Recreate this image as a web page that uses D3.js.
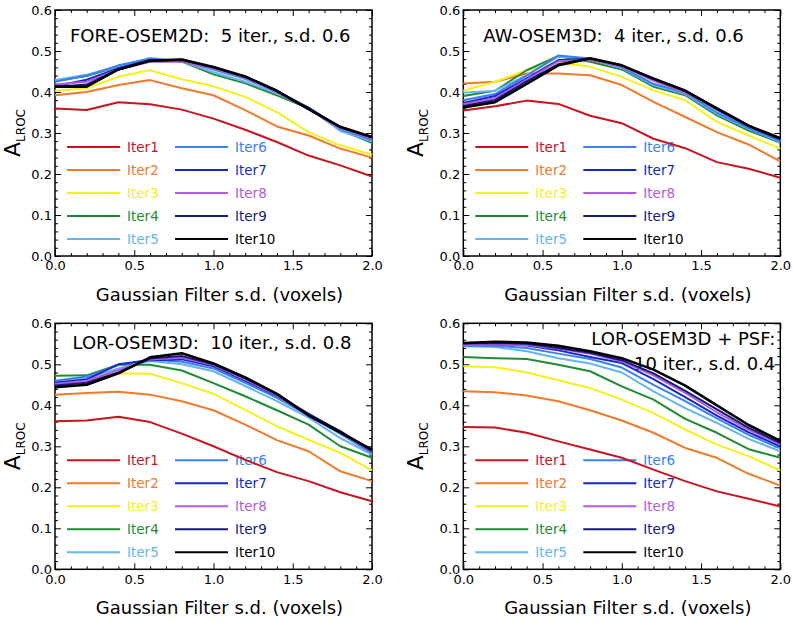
<!DOCTYPE html>
<html><head><meta charset="utf-8">
<script src="https://cdn.jsdelivr.net/npm/d3@7"></script>
<style>
html,body{margin:0;padding:0;background:#fff;}
svg{display:block;}
text{font-family:"DejaVu Sans",sans-serif;}
</style></head>
<body>
<svg id="chart" width="793" height="622"></svg>
<script>
// ---------- data ----------
const filterSD = [0.0,0.2,0.4,0.6,0.8,1.0,1.2,1.4,1.6,1.8,2.0];
const seriesNames = ["Iter1","Iter2","Iter3","Iter4","Iter5","Iter6","Iter7","Iter8","Iter9","Iter10"];
const seriesColors = ["#c8141e","#f07a2a","#f4f020","#1e8c32","#64b4f0","#3a80f0","#1428c8","#b45adc","#141a80","#000000"];
const xTickValues = [0.0,0.5,1.0,1.5,2.0];
const yTickValues = [0.0,0.1,0.2,0.3,0.4,0.5,0.6];
const xLabel = "Gaussian Filter s.d. (voxels)";

const foreOsem2d = [
  [0.360,0.356,0.375,0.370,0.357,0.335,0.308,0.278,0.245,0.221,0.194],
  [0.392,0.400,0.417,0.429,0.409,0.392,0.356,0.316,0.294,0.262,0.240],
  [0.403,0.409,0.437,0.453,0.431,0.414,0.388,0.351,0.302,0.270,0.247],
  [0.427,0.439,0.462,0.480,0.474,0.443,0.421,0.392,0.360,0.307,0.276],
  [0.429,0.442,0.463,0.483,0.475,0.448,0.425,0.396,0.362,0.305,0.280],
  [0.425,0.440,0.465,0.481,0.476,0.455,0.432,0.400,0.360,0.310,0.283],
  [0.414,0.430,0.458,0.478,0.478,0.459,0.437,0.402,0.362,0.313,0.287],
  [0.418,0.425,0.455,0.474,0.474,0.458,0.435,0.400,0.358,0.312,0.286],
  [0.412,0.418,0.455,0.477,0.479,0.460,0.437,0.403,0.359,0.314,0.289],
  [0.413,0.413,0.455,0.476,0.479,0.461,0.438,0.403,0.358,0.315,0.290]
];
const awOsem3d = [
  [0.355,0.365,0.379,0.371,0.342,0.324,0.286,0.263,0.229,0.213,0.191],
  [0.421,0.425,0.445,0.445,0.441,0.417,0.376,0.339,0.302,0.272,0.231],
  [0.403,0.425,0.453,0.471,0.462,0.437,0.404,0.380,0.327,0.294,0.262],
  [0.390,0.403,0.453,0.488,0.474,0.455,0.413,0.392,0.343,0.306,0.276],
  [0.398,0.403,0.441,0.486,0.480,0.458,0.417,0.395,0.347,0.310,0.278],
  [0.380,0.395,0.440,0.489,0.482,0.460,0.420,0.398,0.350,0.312,0.280],
  [0.373,0.390,0.433,0.478,0.481,0.463,0.432,0.402,0.357,0.316,0.284],
  [0.370,0.385,0.430,0.475,0.478,0.462,0.428,0.398,0.360,0.318,0.284],
  [0.366,0.380,0.426,0.468,0.482,0.465,0.434,0.404,0.360,0.318,0.285],
  [0.362,0.375,0.420,0.465,0.482,0.465,0.432,0.403,0.360,0.318,0.287]
];
const lorOsem3d = [
  [0.361,0.363,0.372,0.359,0.331,0.300,0.267,0.237,0.215,0.188,0.166],
  [0.426,0.430,0.433,0.426,0.410,0.388,0.353,0.315,0.288,0.239,0.215],
  [0.455,0.462,0.478,0.477,0.454,0.428,0.389,0.349,0.316,0.284,0.241],
  [0.472,0.473,0.499,0.499,0.485,0.454,0.422,0.388,0.353,0.300,0.272],
  [0.458,0.466,0.490,0.508,0.500,0.483,0.447,0.410,0.370,0.320,0.280],
  [0.460,0.470,0.498,0.512,0.506,0.490,0.455,0.418,0.375,0.330,0.283],
  [0.455,0.463,0.500,0.510,0.512,0.495,0.460,0.423,0.380,0.335,0.286],
  [0.452,0.460,0.486,0.512,0.516,0.498,0.463,0.425,0.377,0.335,0.286],
  [0.448,0.455,0.480,0.514,0.520,0.500,0.466,0.428,0.378,0.337,0.288],
  [0.444,0.450,0.478,0.517,0.527,0.502,0.468,0.428,0.375,0.334,0.292]
];
const lorOsem3dPsf = [
  [0.347,0.346,0.333,0.312,0.292,0.272,0.243,0.215,0.190,0.172,0.153],
  [0.434,0.432,0.424,0.410,0.388,0.363,0.333,0.296,0.272,0.233,0.204],
  [0.495,0.493,0.480,0.461,0.442,0.414,0.381,0.341,0.304,0.276,0.241],
  [0.518,0.515,0.513,0.499,0.483,0.446,0.414,0.367,0.333,0.293,0.272],
  [0.544,0.542,0.532,0.515,0.502,0.480,0.434,0.393,0.357,0.318,0.288],
  [0.545,0.545,0.540,0.526,0.513,0.492,0.450,0.410,0.368,0.328,0.295],
  [0.550,0.549,0.546,0.534,0.518,0.503,0.464,0.420,0.375,0.334,0.300],
  [0.548,0.548,0.547,0.538,0.526,0.507,0.473,0.430,0.383,0.340,0.305],
  [0.551,0.552,0.550,0.540,0.528,0.510,0.478,0.435,0.390,0.345,0.308],
  [0.552,0.555,0.553,0.545,0.532,0.515,0.487,0.448,0.400,0.352,0.313]
];
const panelTitles = [
  ["FORE-OSEM2D:  5 iter., s.d. 0.6"],
  ["AW-OSEM3D:  4 iter., s.d. 0.6"],
  ["LOR-OSEM3D:  10 iter., s.d. 0.8"],
  ["LOR-OSEM3D + PSF:", "10 iter., s.d. 0.4"]
];
const panelData = [foreOsem2d, awOsem3d, lorOsem3d, lorOsem3dPsf];

// ---------- layout ----------
const PW = 317, PH = 246;
const layout = [
  {left:55,   top:10,    titleX:15, titleY:[31.5], anchor:"start", ylabX:-35},
  {left:463.3,top:10,    titleX:20, titleY:[31.5], anchor:"start", ylabX:-40},
  {left:55,   top:323.3, titleX:17.5, titleY:[26], anchor:"start", ylabX:-35},
  {left:463.3,top:323.3, titleX:PW-5, titleY:[21.7,46.7], anchor:"end", ylabX:-40}
];
const legendRows = [109, 86, 63, 40, 17];

const svg = d3.select("#chart");

panelData.forEach((data, pi) => {
  const L = layout[pi];
  const g = svg.append("g").attr("transform", `translate(${L.left},${L.top})`);
  const x = d3.scaleLinear().domain([0, 2]).range([0, PW]);
  const y = d3.scaleLinear().domain([0, 0.6]).range([PH, 0]);

  const xMinor = d3.range(0, 21).map(i => i/10).filter(v => Math.abs(v*2 - Math.round(v*2)) > 1e-6);
  const yMinor = d3.range(0, 31).map(i => i/50).filter(v => Math.abs(v*10 - Math.round(v*10)) > 1e-6);

  // ticks
  const styleAxis = sel => { sel.select(".domain").remove(); sel.selectAll("line").attr("stroke","#000").attr("stroke-width",1); };
  g.append("g").attr("transform",`translate(0,${PH})`)
    .call(d3.axisBottom(x).tickValues(xTickValues).tickSize(-6).tickPadding(5).tickFormat(d3.format(".1f")))
    .call(styleAxis).call(s => s.selectAll("text").attr("font-size",13).attr("fill","#000").attr("font-family","DejaVu Sans"));
  g.append("g").attr("transform",`translate(0,${PH})`)
    .call(d3.axisBottom(x).tickValues(xMinor).tickSize(-3).tickFormat("")).call(styleAxis);
  g.append("g").call(d3.axisTop(x).tickValues(xTickValues).tickSize(-6).tickFormat("")).call(styleAxis);
  g.append("g").call(d3.axisTop(x).tickValues(xMinor).tickSize(-3).tickFormat("")).call(styleAxis);
  g.append("g")
    .call(d3.axisLeft(y).tickValues(yTickValues).tickSize(-6).tickPadding(3).tickFormat(d3.format(".1f")))
    .call(styleAxis).call(s => s.selectAll("text").attr("font-size",13).attr("fill","#000").attr("font-family","DejaVu Sans"));
  g.append("g").call(d3.axisLeft(y).tickValues(yMinor).tickSize(-3).tickFormat("")).call(styleAxis);
  g.append("g").attr("transform",`translate(${PW},0)`)
    .call(d3.axisRight(y).tickValues(yTickValues).tickSize(-6).tickFormat("")).call(styleAxis);
  g.append("g").attr("transform",`translate(${PW},0)`)
    .call(d3.axisRight(y).tickValues(yMinor).tickSize(-3).tickFormat("")).call(styleAxis);

  // frame
  g.append("rect").attr("x",0).attr("y",0).attr("width",PW).attr("height",PH)
    .attr("fill","none").attr("stroke","#000").attr("stroke-width",1.5);

  // x label
  g.append("text").attr("x", PW/2 + 6).attr("y", PH + 45).attr("text-anchor","middle")
    .attr("font-size",18).attr("fill","#000").text(xLabel);

  // y label A_LROC
  const yl = g.append("text").attr("transform",`translate(${L.ylabX},${PH/2}) rotate(-90)`)
    .attr("text-anchor","middle").attr("fill","#000");
  yl.append("tspan").attr("font-size",22).text("A");
  yl.append("tspan").attr("font-size",12).attr("dy",5).text("LROC");

  // title
  panelTitles[pi].forEach((t, li) => {
    g.append("text").attr("x", L.titleX).attr("y", L.titleY[li])
      .attr("text-anchor", L.anchor).attr("font-size",18).attr("fill","#000")
      .style("white-space","pre").text(t);
  });

  // legend
  seriesNames.forEach((name, si) => {
    const col = Math.floor(si/5), row = si % 5;
    const ly = PH - legendRows[row];
    const x0 = col === 0 ? 12 : 120;
    g.append("line").attr("x1",x0).attr("x2",x0+53).attr("y1",ly).attr("y2",ly)
      .attr("stroke",seriesColors[si]).attr("stroke-width",2);
    g.append("text").attr("x",x0+60).attr("y",ly).attr("dy","0.36em")
      .attr("font-size",13.5).attr("fill",seriesColors[si]).text(name);
  });

  // lines
  const line = d3.line().x((d,i) => x(filterSD[i])).y(d => y(d));
  data.forEach((vals, si) => {
    g.append("path").attr("d", line(vals)).attr("fill","none")
      .attr("stroke", seriesColors[si]).attr("stroke-width", si === 9 ? 2.6 : 2)
      .attr("stroke-linejoin","round");
  });
});
</script>
</body></html>
